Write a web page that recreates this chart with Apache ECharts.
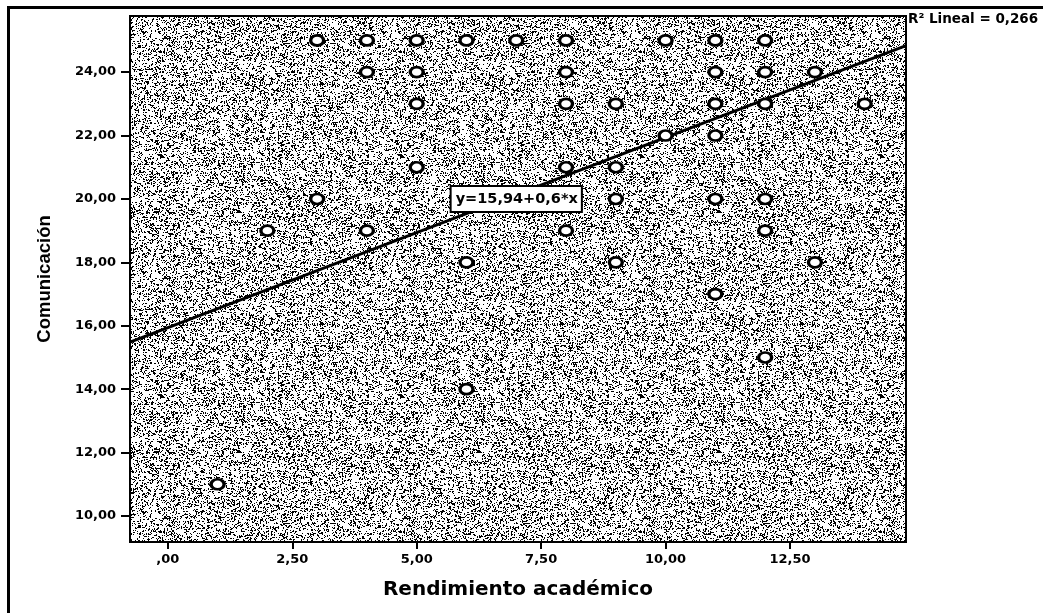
<!DOCTYPE html>
<html>
<head>
<meta charset="utf-8">
<script src="https://cdn.jsdelivr.net/npm/echarts@6/dist/echarts.min.js"></script>
<style>
html,body{margin:0;padding:0;background:#fff;}
#chart{width:1043px;height:613px;}
</style>
</head>
<body>
<div id="chart"></div>
<script>
// ---- data ----
const xValues = [3,4,5,6,7,8,10,11,12, 4,5,8,11,12,13, 5,8,9,11,12,14, 10,11, 5,8,9, 3,9,11,12, 2,4,8,12, 6,9,13, 11, 12, 6, 1];
const yValues = [25,25,25,25,25,25,25,25,25, 24,24,24,24,24,24, 23,23,23,23,23,23, 22,22, 21,21,21, 20,20,20,20, 19,19,19,19, 18,18,18, 17, 15, 14, 11];
const fitIntercept = 15.94;
const fitSlope = 0.6;
const fitLabel = 'y=15,94+0,6*x';
const r2Label = 'R\u00B2 Lineal = 0,266';
const xTickValues = [0, 2.5, 5, 7.5, 10, 12.5];
const xTickLabels = [',00', '2,50', '5,00', '7,50', '10,00', '12,50'];
const yTickValues = [10, 12, 14, 16, 18, 20, 22, 24];
const yTickLabels = ['10,00', '12,00', '14,00', '16,00', '18,00', '20,00', '22,00', '24,00'];
const xName = 'Rendimiento académico';
const yName = 'Comunicación';
const xMin = -0.76, xMax = 14.83;
const yMin = 9.18, yMax = 25.77;

// ---- speckle texture (deterministic hash, decorative only) ----
function hash(x, y) {
  let h = (x * 374761393 + y * 668265263) | 0;
  h = Math.imul(h ^ (h >>> 13), 1274126177);
  h = (h ^ (h >>> 16)) >>> 0;
  return (h % 10000) / 10000;
}
function makeTexture() {
  const S = 240;
  const c = document.createElement('canvas');
  c.width = S; c.height = S;
  const ctx = c.getContext('2d');
  ctx.fillStyle = '#ffffff';
  ctx.fillRect(0, 0, S, S);
  ctx.fillStyle = '#000000';
  for (let y = 0; y < S; y++) {
    for (let x = 0; x < S; x++) {
      const v = hash(x, y);
      if (v < 0.14) ctx.fillRect(x, y, 1, 1);
      else if (v < 0.18) ctx.fillRect(x, y, 2, 1);
      else if (v < 0.21) ctx.fillRect(x, y, 1, 2);
    }
  }
  return c;
}

const points = xValues.map((x, i) => [x, yValues[i]]);
const fitLine = [[xMin, fitIntercept + fitSlope * xMin], [xMax, fitIntercept + fitSlope * xMax]];

const chart = echarts.init(document.getElementById('chart'), null, {renderer: 'canvas'});
const bold = 'DejaVu Sans';
chart.setOption({
  animation: false,
  backgroundColor: '#ffffff',
  grid: {
    left: 130, right: 137, top: 16, bottom: 71,
    show: true,
    backgroundColor: {image: makeTexture(), repeat: 'repeat'},
    borderColor: '#000', borderWidth: 2
  },
  xAxis: {
    type: 'value', min: xMin, max: xMax,
    name: xName, nameLocation: 'middle', nameGap: 38,
    nameTextStyle: {fontFamily: bold, fontWeight: 'bold', fontSize: 20, color: '#000'},
    splitLine: {show: false},
    axisLine: {onZero: false, lineStyle: {color: '#000', width: 2}},
    axisTick: {customValues: xTickValues, length: 7, lineStyle: {color: '#000', width: 2}},
    axisLabel: {
      customValues: xTickValues, margin: 11,
      fontFamily: bold, fontWeight: 'bold', fontSize: 13, color: '#000',
      formatter: v => { const i = xTickValues.indexOf(v); return i >= 0 ? xTickLabels[i] : ''; }
    }
  },
  yAxis: {
    type: 'value', min: yMin, max: yMax,
    name: yName, nameLocation: 'middle', nameGap: 76,
    nameTextStyle: {fontFamily: "'Liberation Sans Narrow', 'Liberation Sans', sans-serif", fontWeight: 'bold', fontSize: 18.5, color: '#000'},
    splitLine: {show: false},
    axisLine: {onZero: false, lineStyle: {color: '#000', width: 2}},
    axisTick: {customValues: yTickValues, length: 9, lineStyle: {color: '#000', width: 2}},
    axisLabel: {
      customValues: yTickValues, margin: 14,
      fontFamily: bold, fontWeight: 'bold', fontSize: 13, color: '#000',
      formatter: v => { const i = yTickValues.indexOf(v); return i >= 0 ? yTickLabels[i] : ''; }
    }
  },
  series: [
    {
      type: 'line', data: fitLine, symbol: 'none', silent: true,
      lineStyle: {color: '#000', width: 3}, z: 3,
      markPoint: {
        symbol: 'rect', symbolSize: 1, itemStyle: {color: 'transparent'},
        data: [{coord: [7, 20]}],
        label: {
          show: true, position: 'inside', formatter: fitLabel,
          fontFamily: bold, fontWeight: 'bold', fontSize: 14.5, color: '#000',
          backgroundColor: '#fff', borderColor: '#000', borderWidth: 2,
          padding: [4, 3, 3, 4], lineHeight: 17
        }
      }
    },
    {
      type: 'scatter', data: points, symbol: 'circle', symbolSize: [13, 10],
      itemStyle: {color: '#fff', borderColor: '#000', borderWidth: 3, opacity: 1}, z: 4
    }
  ],
  graphic: [
    {type: 'rect', left: 6, top: 5, shape: {width: 1100, height: 700}, style: {fill: 'none', stroke: '#000', lineWidth: 3}, silent: true, z: -1},
    {type: 'text', left: 908, top: 12, style: {text: r2Label, fontFamily: 'DejaVu Sans', fontWeight: 'bold', fontSize: 13.5, fill: '#000'}}
  ]
});
</script>
</body>
</html>
